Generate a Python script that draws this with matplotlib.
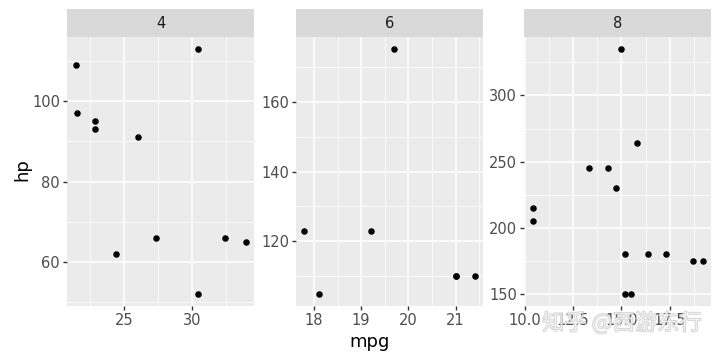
import matplotlib.pyplot as plt
import matplotlib.patheffects as pe

# mtcars: mpg vs hp, faceted by cyl
cyl_levels = ['4', '6', '8']

mpg_4 = [22.8, 24.4, 22.8, 32.4, 30.4, 33.9, 21.5, 27.3, 26.0, 30.4, 21.4]
hp_4 = [93, 62, 95, 66, 52, 65, 97, 66, 91, 113, 109]

mpg_6 = [21.0, 21.0, 21.4, 18.1, 19.2, 17.8, 19.7]
hp_6 = [110, 110, 110, 105, 123, 123, 175]

mpg_8 = [18.7, 14.3, 16.4, 17.3, 15.2, 10.4, 10.4, 14.7, 15.5, 15.2, 13.3, 19.2, 15.8, 15.0]
hp_8 = [175, 245, 180, 180, 180, 205, 215, 230, 150, 150, 245, 175, 264, 335]

x_ticks = [[25, 30], [18, 19, 20, 21], [10.0, 12.5, 15.0, 17.5]]
x_labels = [['25', '30'], ['18', '19', '20', '21'], ['10.0', '12.5', '15.0', '17.5']]
y_ticks = [[60, 80, 100], [120, 140, 160], [150, 200, 250, 300]]

series = [(mpg_4, hp_4), (mpg_6, hp_6), (mpg_8, hp_8)]

W, H = 720, 360
fig = plt.figure(figsize=(7.2, 3.6), dpi=100)

lefts = [67, 296, 524]
pw = 187
bottom_px = 306
top_px = 37
strip_top = 9

for i, (xs, ys) in enumerate(series):
    ax = fig.add_axes([lefts[i] / W, (H - bottom_px) / H, pw / W, (bottom_px - top_px) / H])
    ax.set_facecolor('#EBEBEB')
    for s in ax.spines.values():
        s.set_visible(False)

    xt = x_ticks[i]
    yt = y_ticks[i]
    ax.set_xticks(xt)
    ax.set_xticklabels(x_labels[i])
    ax.set_yticks(yt)

    # minor ticks at midpoints (ggplot minor grid)
    xstep = xt[1] - xt[0]
    ystep = yt[1] - yt[0]
    xm = [xt[0] - xstep / 2] + [t + xstep / 2 for t in xt]
    ym = [yt[0] - ystep / 2] + [t + ystep / 2 for t in yt]
    ax.set_xticks(xm, minor=True)
    ax.set_yticks(ym, minor=True)

    # ggplot-like 5% expansion (set after ticks so they don't widen the view)
    x0, x1 = min(xs), max(xs)
    y0, y1 = min(ys), max(ys)
    dx = (x1 - x0) * 0.05
    dy = (y1 - y0) * 0.05
    ax.set_xlim(x0 - dx, x1 + dx)
    ax.set_ylim(y0 - dy, y1 + dy)

    ax.grid(True, which='major', color='white', linewidth=1.1)
    ax.grid(True, which='minor', color='white', linewidth=0.55)
    ax.set_axisbelow(True)

    ax.tick_params(which='major', length=3, width=1, color='#333333',
                   labelsize=10.5, labelcolor='#4D4D4D', pad=2)
    ax.tick_params(which='minor', length=0)

    ax.scatter(xs, ys, s=22, color='black', zorder=3, linewidths=0)

    # facet strip
    sax = fig.add_axes([lefts[i] / W, (H - top_px) / H, pw / W, (top_px - strip_top) / H])
    sax.set_facecolor('#D9D9D9')
    sax.set_xticks([])
    sax.set_yticks([])
    for s in sax.spines.values():
        s.set_visible(False)
    sax.text(0.5, 0.5, cyl_levels[i], ha='center', va='center',
             fontsize=10.5, color='#1A1A1A', transform=sax.transAxes)

fig.text(22 / W, 1 - 170 / H, 'hp', rotation=90, ha='center', va='center', fontsize=13)
fig.text(370 / W, 1 - 342 / H, 'mpg', ha='center', va='center', fontsize=13)

# watermark (semi-transparent, as in the source image)
fig.text(622 / W, 1 - 323 / H, '知乎 @西游东行', ha='center', va='center',
         fontsize=16, color='white', alpha=0.6,
         family=['Noto Sans CJK SC', 'DejaVu Sans'],
         path_effects=[pe.withStroke(linewidth=1.0, foreground='#b0b0b0', alpha=0.6)])

fig.savefig('out.png', dpi=100)
